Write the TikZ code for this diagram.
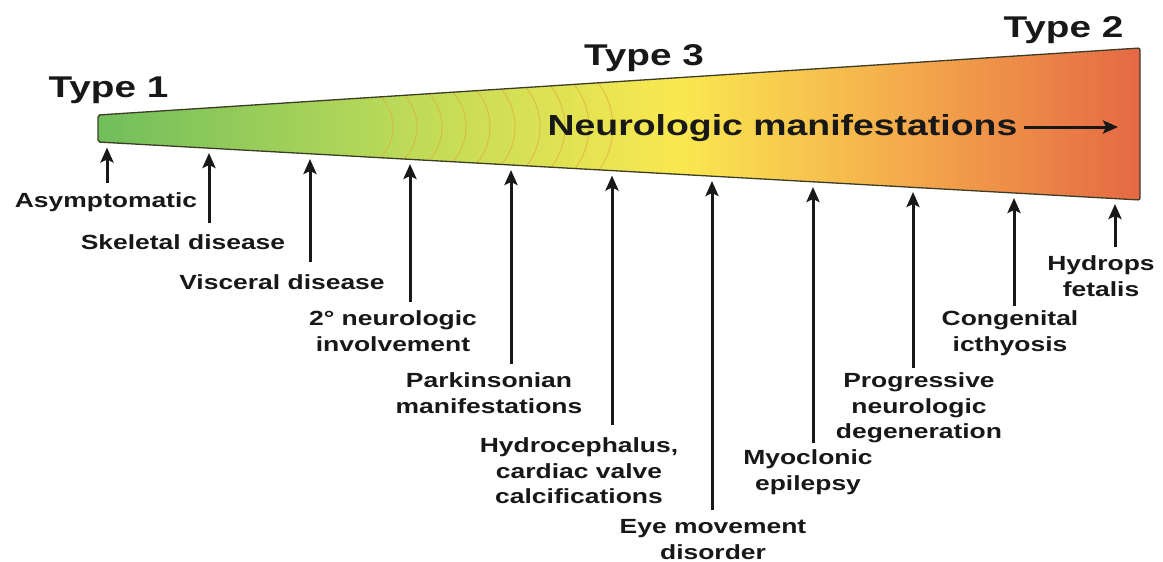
\documentclass[tikz,border=0pt]{standalone}
\usepackage{fontspec}
\setmainfont[FakeStretch=1.29]{Liberation Sans}
\usetikzlibrary{arrows.meta}
\definecolor{gA}{RGB}{112,190,92}
\definecolor{gB}{RGB}{188,218,88}
\definecolor{gC}{RGB}{250,232,80}
\definecolor{gD}{RGB}{244,172,76}
\definecolor{gE}{RGB}{229,104,68}
\definecolor{edge}{RGB}{60,60,40}
\definecolor{ripple}{RGB}{222,172,62}
\definecolor{ink}{RGB}{24,24,24}
\tikzset{
  lab/.style={font=\fontsize{20.5}{25.5}\selectfont\bfseries, align=center, anchor=north, inner sep=0pt, text=ink},
  typelab/.style={font=\fontsize{30}{32}\selectfont\bfseries, anchor=base, inner sep=0pt, text=ink},
  upar/.style={draw=ink, line width=3pt, -{Stealth[length=15pt,width=13pt,inset=3pt]}},
  rip/.style={draw=ripple, line width=0.9pt, opacity=0.7}
}
\begin{document}
\begin{tikzpicture}[x=1pt,y=-1pt]
\useasboundingbox (0,0) rectangle (1163,562);
% wedge
\coordinate (wTL) at (98,115);
\coordinate (wTR) at (1140,48);
\coordinate (wBR) at (1140,200);
\coordinate (wBL) at (98,142);
\begin{scope}
  \clip (wTL) -- (wTR) -- (wBR) -- (wBL) -- cycle;
  \shade[left color=gA, right color=gB] (97,40) rectangle (400,210);
  \shade[left color=gB, right color=gC] (399.5,40) rectangle (680,210);
  \shade[left color=gC, right color=gD] (679.5,40) rectangle (900,210);
  \shade[left color=gD, right color=gE] (899.5,40) rectangle (1141,210);
  \foreach \ax/\r in {393/43.5,417/46.6,442/49.8,466/53,490/56,515/59.3,540/62.5,565/65.8,589/68.9,613/72}{
    \draw[rip] (\ax,127) arc[start angle=0, end angle=80, radius=\r];
    \draw[rip] (\ax,127) arc[start angle=0, end angle=-80, radius=\r];
  }
\end{scope}
\draw[edge, line width=1.3pt, rounded corners=2pt] (wTL) -- (wTR) -- (wBR) -- (wBL) -- cycle;
% type labels
\node[typelab] (ty1) at (108.5,97) {Type 1};
\node[typelab] (ty3) at (644,65) {Type 3};
\node[typelab] (ty2) at (1063.5,37) {Type 2};
% neurologic manifestations
\node[font=\fontsize{29}{31}\selectfont\bfseries, anchor=base, inner sep=0pt, text=ink] (nm) at (782.5,135) {Neurologic manifestations};
\coordinate (nmtip) at (1118,127);
\draw[draw=ink, line width=3pt, -{Stealth[length=15pt,width=13pt,inset=3pt]}, shorten <=6pt] (nm.east |- nmtip) -- (nmtip);
% arrow tips
\coordinate (t1) at (107,147.5);
\coordinate (t2) at (209,153);
\coordinate (t3) at (310,159);
\coordinate (t4) at (410,164);
\coordinate (t5) at (511,170);
\coordinate (t6) at (612,175.5);
\coordinate (t7) at (712,181);
\coordinate (t8) at (813,187);
\coordinate (t9) at (913,192);
\coordinate (t10) at (1014,198);
\coordinate (t11) at (1115,204);
% labels
\node[lab] (l1) at (106,192.6) {Asymptomatic};
\node[lab] (l2) at (183,234.6) {Skeletal disease};
\node[lab] (l3) at (282,274.6) {Visceral disease};
\node[lab] (l4) at (393,310.6) {2° neurologic\\involvement};
\node[lab] (l5) at (489,372.6) {Parkinsonian\\manifestations};
\node[lab] (l6) at (579,437.6) {Hydrocephalus,\\cardiac valve\\calcifications};
\node[lab] (l7) at (713,519.6) {Eye movement\\disorder};
\node[lab] (l8) at (808,449.6) {Myoclonic\\epilepsy};
\node[lab] (l9) at (919,372.6) {Progressive\\neurologic\\degeneration};
\node[lab] (l10) at (1010,310.6) {Congenital\\icthyosis};
\node[lab] (l11) at (1101,255.6) {Hydrops\\fetalis};
% arrows
\draw[upar, shorten <=10pt] (l1.north -| t1) -- (t1);
\draw[upar, shorten <=11.6pt] (l2.north -| t2) -- (t2);
\draw[upar, shorten <=12.6pt] (l3.north -| t3) -- (t3);
\draw[upar, shorten <=8.6pt] (l4.north -| t4) -- (t4);
\draw[upar, shorten <=8.6pt] (l5.north -| t5) -- (t5);
\draw[upar, shorten <=12.6pt] (l6.north -| t6) -- (t6);
\draw[upar, shorten <=9.6pt] (l7.north -| t7) -- (t7);
\draw[upar, shorten <=6.6pt] (l8.north -| t8) -- (t8);
\draw[upar, shorten <=4.6pt] (l9.north -| t9) -- (t9);
\draw[upar, shorten <=4.6pt] (l10.north -| t10) -- (t10);
\draw[upar, shorten <=8.6pt] (l11.north -| t11) -- (t11);
\end{tikzpicture}
\end{document}
